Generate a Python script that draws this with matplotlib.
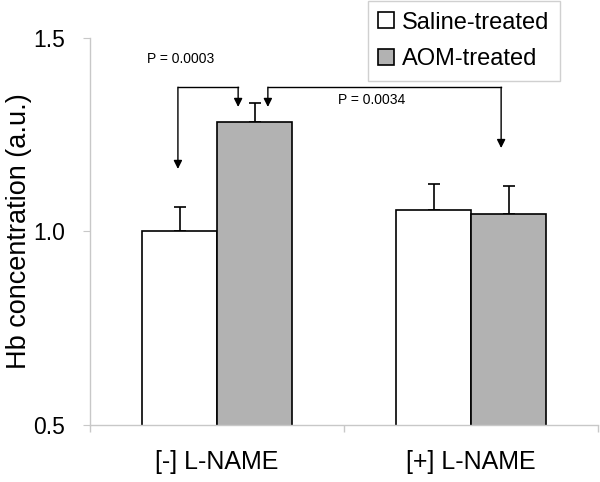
import numpy as np
import matplotlib.pyplot as plt

plt.rcParams['font.family'] = ['Liberation Sans', 'DejaVu Sans']

# data
groups = ['[-] L-NAME', '[+] L-NAME']
saline = [1.000, 1.054]
saline_err = [0.062, 0.067]
aom = [1.283, 1.046]
aom_err = [0.049, 0.070]
series_names = ['Saline-treated', 'AOM-treated']

fig = plt.figure(figsize=(6, 4.82), dpi=100)
ax = fig.add_axes([0.15, 0.118, 0.847, 0.804])

x = np.arange(len(groups))
w = 0.295
ax.bar(x - w/2, saline, w, color='white', edgecolor='black', linewidth=1.2,
       label=series_names[0], zorder=2)
ax.bar(x + w/2, aom, w, color='#b2b2b2', edgecolor='black', linewidth=1.2,
       label=series_names[1], zorder=2)
ax.errorbar(x - w/2, saline, yerr=[np.zeros(2), saline_err], fmt='none', ecolor='black',
            elinewidth=1.2, capsize=4, capthick=1.2, zorder=1)
ax.errorbar(x + w/2, aom, yerr=[np.zeros(2), aom_err], fmt='none', ecolor='black',
            elinewidth=1.2, capsize=4, capthick=1.2, zorder=1)

ax.set_ylim(0.5, 1.5)
ax.set_xlim(-0.5, 1.5)
ax.set_yticks([0.5, 1.0, 1.5])
ax.set_yticklabels(['0.5', '1.0', '1.5'])
ax.set_xticks(x)
ax.set_xticklabels(groups)
ax.set_xticks([-0.5, 0.5, 1.5], minor=True)
ax.tick_params(axis='x', which='major', length=0, labelsize=18, pad=18)
ax.tick_params(axis='x', which='minor', length=5, color='#c8c8c8', width=1)
ax.tick_params(axis='y', labelsize=16.5, length=5, color='#c8c8c8', pad=13)
ax.set_ylabel('Hb concentration (a.u.)', fontsize=19.5)
ax.yaxis.set_label_coords(-0.114, 0.5)

for s in ['top', 'right']:
    ax.spines[s].set_visible(False)
for s in ['left', 'bottom']:
    ax.spines[s].set_color('#c8c8c8')
    ax.spines[s].set_linewidth(1)
ax.spines['bottom'].set_zorder(3)

# significance brackets
lw = 1.0
head = dict(arrowstyle='-|>,head_length=0.5,head_width=0.25', color='black', lw=lw,
            shrinkA=0, shrinkB=0, mutation_scale=10)
yb = 1.372
ax.plot([-0.154, 0.083], [yb, yb], color='black', lw=lw, clip_on=False)
ax.annotate('', xy=(-0.154, 1.161), xytext=(-0.154, yb), arrowprops=head)
ax.annotate('', xy=(0.083, 1.321), xytext=(0.083, yb), arrowprops=head)
ax.text(-0.142, 1.445, 'P = 0.0003', fontsize=10, ha='center', va='center')

ax.plot([0.20, 1.118], [yb, yb], color='black', lw=lw, clip_on=False)
ax.annotate('', xy=(0.20, 1.321), xytext=(0.20, yb), arrowprops=head)
ax.annotate('', xy=(1.118, 1.215), xytext=(1.118, yb), arrowprops=head)
ax.text(0.61, 1.339, 'P = 0.0034', fontsize=10, ha='center', va='center')

leg = fig.legend(loc='upper left', bbox_to_anchor=(0.613, 0.998), fontsize=17,
                 frameon=True, fancybox=False, edgecolor='#d0d0d0', framealpha=1,
                 handlelength=0.65, handleheight=0.65, handletextpad=0.35,
                 borderpad=0.45, labelspacing=0.62, borderaxespad=0)
leg.get_frame().set_linewidth(1)

fig.savefig('out.png', dpi=100)
